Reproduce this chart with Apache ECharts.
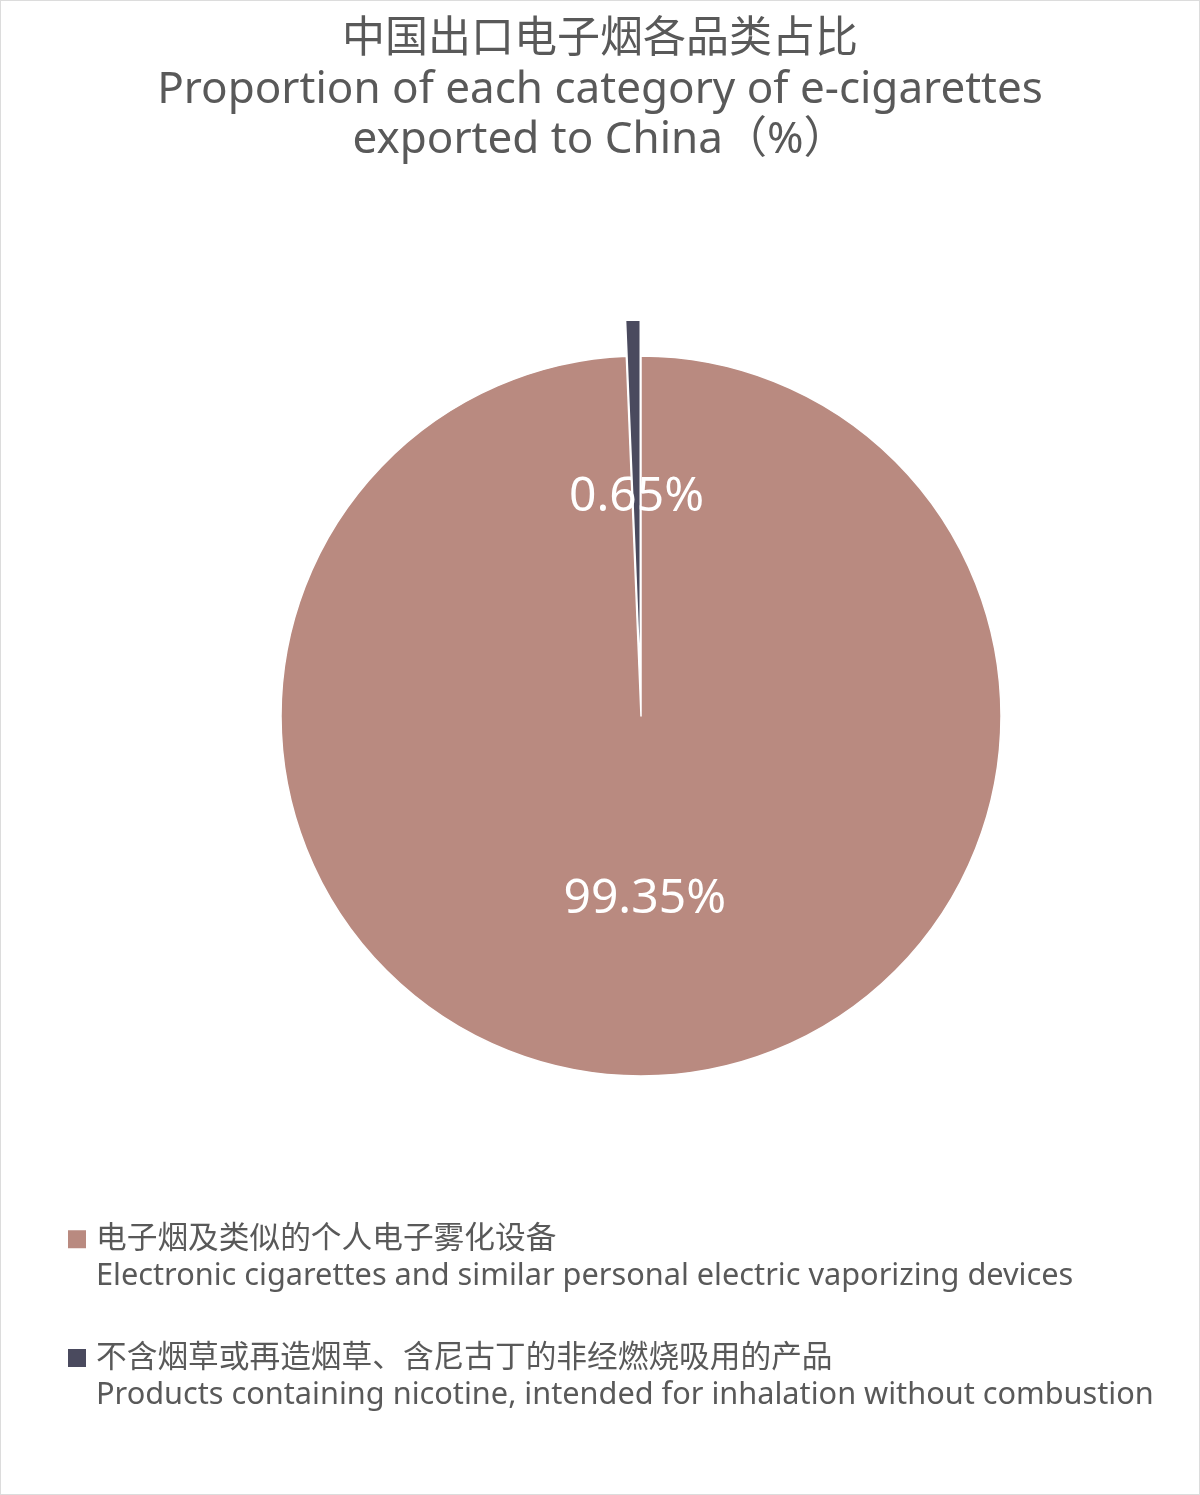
<!DOCTYPE html>
<html>
<head>
<meta charset="utf-8">
<script src="https://cdn.jsdelivr.net/npm/echarts@6/dist/echarts.min.js"></script>
<style>
    html, body { margin: 0; padding: 0; background: #fff; }
    .chart_box { width: 1198px; height: 1493px; border: 1px solid #dcdcdc; }
</style>
</head>
<body>
<div class="chart_box"></div>
<script>
var categoriesCn = ['电子烟及类似的个人电子雾化设备', '不含烟草或再造烟草、含尼古丁的非经燃烧吸用的产品'];
var categoriesEn = ['Electronic cigarettes and similar personal electric vaporizing devices',
    'Products containing nicotine, intended for inhalation without combustion'];
var shares = [99.35, 0.65];
var colors = ['#b98a80', '#4a4a5e'];

var fontStack = '"Noto Sans", "Noto Sans CJK SC", sans-serif';

var myChart = echarts.init(document.querySelector('.chart_box'));

var pieData = [];
for (var i = 0; i < shares.length; i++) {
    pieData.push({
        name: categoriesCn[i],
        value: shares[i],
        selected: i === 1,
        itemStyle: { color: colors[i] }
    });
}

var option = {
    animation: false,
    textStyle: { fontFamily: fontStack },
    title: {
        text: '{cn|中国出口电子烟各品类占比}\n{en|Proportion of each category of e-cigarettes}\n{en|exported to China（%）}',
        left: 'center',
        top: 9,
        textStyle: {
            fontWeight: 'normal',
            rich: {
                cn: { fontSize: 43, fontWeight: 'normal', color: '#595959', lineHeight: 50, fontFamily: fontStack, align: 'center' },
                en: { fontSize: 44, fontWeight: 'normal', color: '#595959', lineHeight: 50, fontFamily: fontStack, align: 'center' }
            }
        }
    },
    legend: {
        orient: 'vertical',
        left: 60,
        top: 1218,
        icon: 'rect',
        itemWidth: 20,
        itemHeight: 20,
        itemGap: 51,
        selectedMode: false,
        data: categoriesCn,
        formatter: function (name) {
            var idx = categoriesCn.indexOf(name);
            return '{cn|' + name + '}\n{en|' + categoriesEn[idx] + '}';
        },
        textStyle: {
            padding: [37, 0, 0, 4],
            rich: {
                cn: { fontSize: 30.7, color: '#595959', lineHeight: 37, fontFamily: fontStack },
                en: { fontSize: 30.7, color: '#595959', lineHeight: 37, fontFamily: fontStack }
            }
        }
    },
    series: [{
        type: 'pie',
        center: [640, 715],
        radius: [0, 360],
        startAngle: 90,
        clockwise: true,
        selectedMode: 'single',
        selectedOffset: 36,
        avoidLabelOverlap: false,
        itemStyle: { borderColor: '#fff', borderWidth: 1.5 },
        label: {
            show: true,
            position: 'inside',
            formatter: '{d}%',
            color: '#fff',
            fontSize: 48,
            fontFamily: '"Noto Sans", sans-serif'
        },
        labelLine: { show: false },
        emphasis: { disabled: true },
        data: pieData
    }]
};

myChart.setOption(option);
</script>
</body>
</html>
